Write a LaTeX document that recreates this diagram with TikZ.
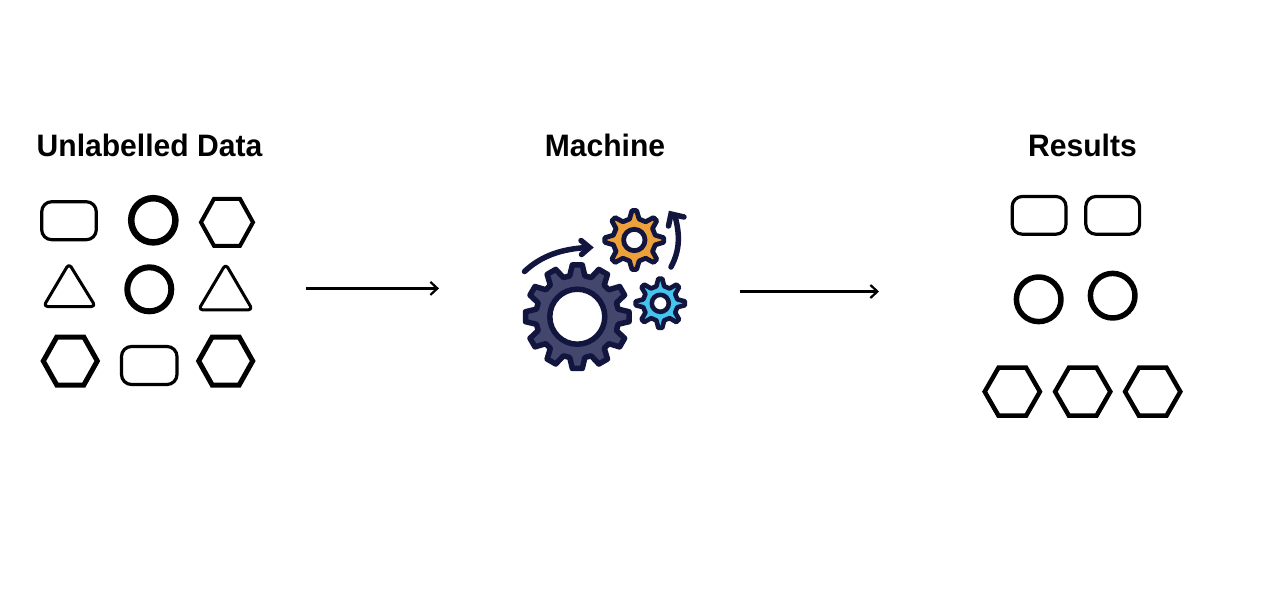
\documentclass[tikz,border=0pt]{standalone}
\usepackage{fontspec}
\setmainfont{Liberation Sans}
\newfontfamily\headfont[FakeStretch=0.97]{Liberation Sans}
\usetikzlibrary{arrows.meta}
\definecolor{gearink}{HTML}{12163F}
\definecolor{gearbig}{HTML}{43476D}
\definecolor{gearorange}{HTML}{ECA13A}
\definecolor{gearblue}{HTML}{45C4EF}
\newcommand{\hexshape}[5]{% x,y,half width,half height,line width
  \draw[line width=#5,line join=miter] ({#1-#3},#2) -- ({#1-#3/2},{#2-#4}) -- ({#1+#3/2},{#2-#4}) -- ({#1+#3},#2) -- ({#1+#3/2},{#2+#4}) -- ({#1-#3/2},{#2+#4}) -- cycle;}
\newcommand{\boxshape}[4]{% x1,y1,x2,y2
  \draw[line width=3.2,rounded corners=10] (#1,#2) rectangle (#3,#4);}
\newcommand{\triangleshape}[5]{% apex x, apex y, base y, left x, right x
  \draw[line width=3,line join=round,rounded corners=4] (#1,#2) -- (#5,#3) -- (#4,#3) -- cycle;}
% x, y, teeth, tip radius, root radius, tip half angle, root half angle, hole radius, line width
\newcommand{\gearshape}[9]{%
  \begin{scope}[shift={(#1,#2)}]
  \pgfmathtruncatemacro{\lastt}{#3-1}
  \draw[gearink,line width=#9,line join=round,fill=\gearfill]
    (-90-#7:#5)
    \foreach \k in {0,...,\lastt} {
      -- ({-90+\k*360/#3-#7}:#5) -- ({-90+\k*360/#3-#6}:#4)
      -- ({-90+\k*360/#3+#6}:#4) -- ({-90+\k*360/#3+#7}:#5)
    } -- cycle;
  \draw[gearink,line width=#9,fill=white] (0,0) circle (#8);
  \end{scope}}
\tikzset{
  headline/.style={font=\headfont\fontsize{31}{36}\selectfont\bfseries,text=black,anchor=center,inner sep=0},
  flow/.style={draw=black,line width=2.2,-{Straight Barb[length=7,width=13,line width=2.2]}},
  gearcurve/.style={draw=gearink,line width=5.5,line cap=round},
}
\begin{document}
\begin{tikzpicture}[x=1pt,y=-1pt,line join=round]
\useasboundingbox (0,0) rectangle (1280,606);
\fill[white] (0,0) rectangle (1280,606);

\node[headline] (t1) at (149.5,145) {Unlabelled Data};
\node[headline] (t2) at (605,145) {Machine};
\node[headline] (t3) at (1082.5,145) {Results};

% left group
\boxshape{41.7}{201.7}{96.3}{239.7}
\draw[line width=6.5] (153.3,220.3) circle (22.1);
\hexshape{227}{222.3}{26}{23.5}{4}
\triangleshape{69}{263.5}{306.5}{43.5}{95.5}
\draw[line width=6] (149.3,289.3) circle (22);
\triangleshape{225.7}{264}{309.8}{198.5}{252.5}
\hexshape{70.3}{361}{27}{24}{5}
\boxshape{121.5}{346.5}{177}{384.5}
\hexshape{225.7}{361}{27}{24}{5}

% right group
\boxshape{1012.2}{196.5}{1066}{234.2}
\boxshape{1085.8}{196.5}{1139.6}{234.2}
\draw[line width=5.5] (1038.7,299.3) circle (22.3);
\draw[line width=5.5] (1112.7,295.7) circle (22.3);
\hexshape{1012.3}{391.7}{27.6}{24}{4.5}
\hexshape{1082.7}{391.7}{27.6}{24}{4.5}
\hexshape{1152.7}{391.7}{27.6}{24}{4.5}

% gears
\def\gearfill{gearbig}
\gearshape{577.3}{316.7}{12}{52}{41.5}{5.5}{10.5}{27.5}{5.5}
\def\gearfill{gearorange}
\gearshape{634.3}{240}{8}{29.5}{21.5}{4.5}{13}{10.7}{4.8}
\def\gearfill{gearblue}
\gearshape{660.3}{303.3}{8}{24.7}{17.5}{4.5}{13}{8.5}{4.6}

% gear arrows
\draw[gearcurve] (524.5,271.5) .. controls (541,256) and (561,249) .. (587,247.5);
\draw[gearcurve,line join=miter] (581,240.5) -- (589.5,247.5) -- (581.5,254.5);
\draw[gearcurve] (671,267) .. controls (680,250) and (680,235) .. (675,216);
\draw[gearcurve,line join=miter] (684,217) -- (671,214) -- (668.5,226);

% flow arrows
\coordinate (a1s) at (306,288.4);
\coordinate (a1e) at (439,288.4);
\coordinate (a2s) at (739.5,291.5);
\coordinate (a2e) at (879,291.5);
\draw[flow] (a1s) -- (a1e);
\draw[flow] (a2s) -- (a2e);
\end{tikzpicture}
\end{document}
